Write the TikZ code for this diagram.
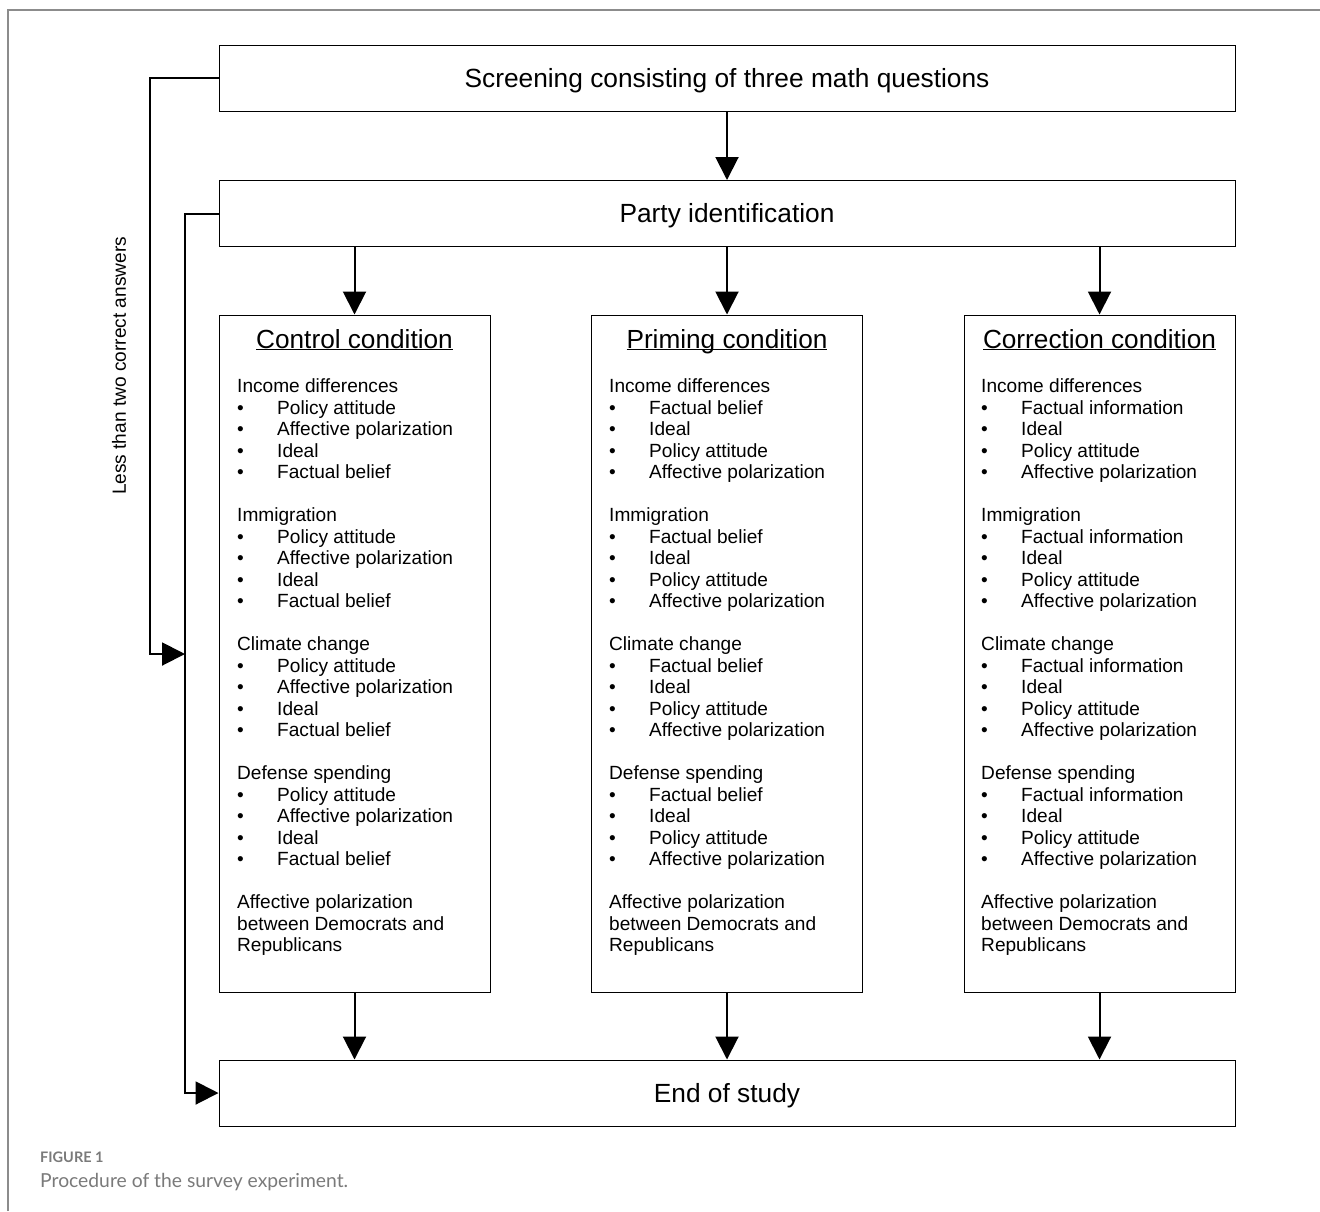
\documentclass[tikz,border=0pt]{standalone}
\usepackage{fontspec}
\setmainfont{Liberation Sans}
\newfontfamily\capfont{Lato}
\usetikzlibrary{arrows.meta}
\definecolor{framegray}{HTML}{8C8C8C}
\definecolor{capgray}{HTML}{7A7A7A}
\newcommand{\bl}{\makebox[40pt][l]{\textbullet}}
\newcommand{\qgroup}[5]{#1\\\bl #2\\\bl #3\\\bl #4\\\bl #5\\[21.5pt]}
\newcommand{\headline}[1]{\underline{\smash{#1}}}

\begin{document}
\begin{tikzpicture}[x=1pt,y=-1pt,
  box/.style={draw,line width=1pt,minimum width=1016pt,minimum height=66pt,inner sep=0pt,
    text height=18.8pt,text depth=0pt,font=\fontsize{26.3}{30}\selectfont},
  cbox/.style={draw,line width=1pt,minimum width=271pt,minimum height=677pt,inner sep=0pt},
  ctitle/.style={anchor=base,inner sep=0pt,font=\fontsize{26.2}{30}\selectfont},
  clist/.style={anchor=north west,align=left,inner sep=0pt,font=\fontsize{19.1}{21.5}\selectfont},
  arr/.style={line width=2pt,-{Triangle[length=23pt,width=23pt]}}]
\useasboundingbox (0,0) rectangle (1320,1211);
\draw[framegray,line width=2pt] (8,1211)--(8,10)--(1320,10);
% main boxes
\node[box] (screen) at (727,78) {Screening consisting of three math questions};
\node[box] (party) at (727,213.5) {Party identification};
\node[cbox] (control) at (354.5,653.5) {};
\node[cbox] (priming) at (727,653.5) {};
\node[cbox] (correction) at (1099.5,653.5) {};
\node[box] (endstudy) at (727,1093) {End of study};
% condition contents
\node[ctitle] (controlhead) at (354.5,348) {\headline{Control condition}};
\node[ctitle] (priminghead) at (727,348) {\headline{Priming condition}};
\node[ctitle] (correctionhead) at (1099.5,348) {\headline{Correction condition}};
\node[clist] (controllist) at (237,378.5) {%
\qgroup{Income differences}{Policy attitude}{Affective polarization}{Ideal}{Factual belief}
\qgroup{Immigration}{Policy attitude}{Affective polarization}{Ideal}{Factual belief}
\qgroup{Climate change}{Policy attitude}{Affective polarization}{Ideal}{Factual belief}
\qgroup{Defense spending}{Policy attitude}{Affective polarization}{Ideal}{Factual belief}
Affective polarization\\between Democrats and\\Republicans};
\node[clist] (priminglist) at (609,378.5) {%
\qgroup{Income differences}{Factual belief}{Ideal}{Policy attitude}{Affective polarization}
\qgroup{Immigration}{Factual belief}{Ideal}{Policy attitude}{Affective polarization}
\qgroup{Climate change}{Factual belief}{Ideal}{Policy attitude}{Affective polarization}
\qgroup{Defense spending}{Factual belief}{Ideal}{Policy attitude}{Affective polarization}
Affective polarization\\between Democrats and\\Republicans};
\node[clist] (correctionlist) at (981,378.5) {%
\qgroup{Income differences}{Factual information}{Ideal}{Policy attitude}{Affective polarization}
\qgroup{Immigration}{Factual information}{Ideal}{Policy attitude}{Affective polarization}
\qgroup{Climate change}{Factual information}{Ideal}{Policy attitude}{Affective polarization}
\qgroup{Defense spending}{Factual information}{Ideal}{Policy attitude}{Affective polarization}
Affective polarization\\between Democrats and\\Republicans};
% arrows
\draw[arr] (screen)--(party);
\foreach \c in {control,priming,correction}{
  \draw[arr] (party.south -| \c.north)--(\c.north);
  \draw[arr] (\c.south)--(\c.south |- endstudy.north);
}
\coordinate (join) at (185,654);
\draw[arr] (screen.west)--++(-69,0) |- (join);
\draw[arr] (party.west)--++(-34,0) |- (endstudy.west);
\node[rotate=90,inner sep=0pt,font=\fontsize{19.1}{21.5}\selectfont] (lessnote) at (119,366) {Less than two correct answers};
% caption
\node[anchor=base west,inner sep=0pt,text=capgray,font=\capfont\bfseries\fontsize{14.5}{16}\selectfont] (figlabel) at (40,1162) {FIGURE 1};
\node[anchor=base west,inner sep=0pt,text=capgray,font=\capfont\fontsize{19.3}{22}\selectfont] (figcaption) at (40,1187) {Procedure of the survey experiment.};
\end{tikzpicture}
\end{document}
